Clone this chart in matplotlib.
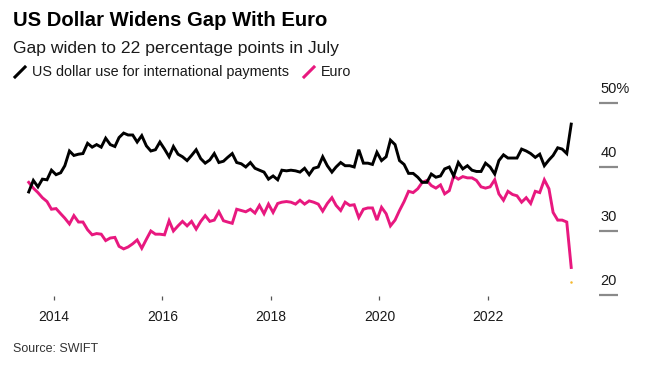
import matplotlib
matplotlib.use("Agg")
import matplotlib.pyplot as plt
import matplotlib.dates as mdates
from matplotlib.lines import Line2D
import matplotlib.transforms as mtransforms
import pandas as pd

# ================================
# Data (monthly, Jul 2013 - Jul 2023), share of SWIFT payments in %
# ================================

START = "2013-07-01"

usd_share = [
    36.1, 37.9, 36.9, 38.1, 38.0, 39.5, 38.8, 39.1, 40.2, 42.5,
    41.8, 42.0, 42.1, 43.7, 43.1, 43.5, 43.1, 44.5, 43.5, 43.2,
    44.6, 45.3, 45.0, 45.0, 43.9, 44.9, 43.3, 42.5, 42.7, 43.9,
    42.8, 41.6, 43.2, 42.0, 41.6, 41.0, 41.8, 42.7, 41.3, 40.6,
    41.1, 42.1, 40.7, 40.9, 41.5, 42.1, 40.7, 40.5, 40.0, 40.7,
    39.8, 39.5, 39.2, 38.1, 38.6, 38.0, 39.5, 39.4, 39.5, 39.4,
    39.2, 39.8, 38.8, 39.8, 40.0, 41.6, 40.2, 39.2, 40.0, 40.7,
    40.2, 40.2, 40.0, 42.7, 40.6, 40.6, 40.4, 42.3, 41.0, 41.6,
    44.2, 43.5, 41.0, 40.4, 39.0, 39.0, 38.4, 37.6, 37.6, 38.9,
    38.4, 38.6, 39.7, 40.0, 38.6, 40.7, 39.7, 40.2, 39.5, 39.3,
    39.3, 40.6, 40.0, 38.9, 41.0, 41.9, 41.4, 41.4, 41.4, 42.8,
    42.5, 42.1, 41.5, 42.0, 40.2, 41.1, 41.8, 43.0, 42.8, 42.1,
    46.7,
]

eur_share = [
    37.6, 36.7, 36.0, 35.2, 34.6, 33.4, 33.5, 32.7, 32.0, 31.1,
    32.4, 31.4, 31.4, 30.2, 29.4, 29.6, 29.5, 28.5, 28.9, 29.0,
    27.6, 27.2, 27.5, 28.0, 28.6, 27.3, 28.7, 30.0, 29.5, 29.5,
    29.4, 31.6, 30.0, 30.8, 31.5, 30.8, 31.5, 30.3, 31.5, 32.4,
    31.5, 31.7, 33.0, 31.6, 31.4, 31.2, 33.4, 33.2, 33.0, 33.4,
    32.8, 34.0, 32.7, 34.2, 32.9, 34.3, 34.5, 34.6, 34.5, 34.2,
    34.8, 34.2, 34.7, 34.5, 34.2, 33.1, 34.3, 35.2, 34.0, 33.2,
    34.5, 34.0, 34.1, 32.1, 33.4, 33.6, 33.6, 31.7, 33.7, 32.7,
    30.8, 31.7, 33.2, 34.6, 36.2, 36.0, 36.6, 37.6, 37.9, 37.1,
    36.7, 37.2, 35.8, 36.3, 38.6, 38.1, 38.5, 38.3, 38.3, 37.9,
    36.9, 36.7, 36.9, 38.0, 35.8, 34.8, 36.2, 35.7, 35.5, 34.5,
    35.2, 34.3, 36.2, 36.0, 38.0, 36.6, 32.9, 31.7, 31.7, 31.4,
    24.3,
]

gap_last = [22.0]  # gap in July 2023, shown as the small yellow dot

y_ticks = [20, 30, 40, 50]
y_tick_labels = ["20", "30", "40", "50%"]

TITLE = "US Dollar Widens Gap With Euro"
SUBTITLE = "Gap widen to 22 percentage points in July"
LEGEND_USD = "US dollar use for international payments"
LEGEND_EUR = "Euro"
SOURCE = "Source: SWIFT"

BLACK = "#000000"
PINK = "#e8187f"
YELLOW = "#f5b82e"
GREY = "#8a8a8a"

plt.rcParams["font.family"] = ["Liberation Sans", "DejaVu Sans"]


def year_to_date(t):
    y = int(t)
    return pd.Timestamp(f"{y}-01-01") + pd.Timedelta(days=(t - y) * 365.25)


def main():
    dates = pd.date_range(START, periods=len(usd_share), freq="MS") + pd.Timedelta(days=14)

    W, H = 651, 365
    fig = plt.figure(figsize=(W / 100, H / 100), dpi=100)

    # axes box in pixels: left 20, right 590, top 95, bottom 296
    left, right, top, bottom = 20, 590, 95, 296
    ax = fig.add_axes([left / W, 1 - bottom / H, (right - left) / W, (bottom - top) / H])

    ax.plot(dates, eur_share, color=PINK, lw=2.1, solid_joinstyle="miter", zorder=3)
    ax.plot(dates, usd_share, color=BLACK, lw=2.1, solid_joinstyle="miter", zorder=4)
    ax.plot(dates[-1:], gap_last, "o", color=YELLOW, ms=1.8, mew=0, zorder=5)

    ax.set_xlim(year_to_date(2013.373), year_to_date(2023.88))
    ax.set_ylim(19.84, 51.25)

    for s in ax.spines.values():
        s.set_visible(False)

    ax.xaxis.set_major_locator(mdates.YearLocator(2))
    ax.xaxis.set_major_formatter(mdates.DateFormatter("%Y"))
    ax.tick_params(axis="x", length=3, width=0.9, color="#555555", pad=7,
                   labelsize=10, labelcolor="#1a1a1a")
    ax.set_yticks([])

    # right-side value labels sitting above short grey rules
    trans = mtransforms.blended_transform_factory(ax.transAxes, ax.transData)
    x0 = (599.3 - left) / (right - left)
    x1 = (617.7 - left) / (right - left)
    for v, lab in zip(y_ticks, y_tick_labels):
        ax.plot([x0, x1], [v, v], transform=trans, color=GREY, lw=1.6,
                clip_on=False, solid_capstyle="butt")
        ax.annotate(lab, xy=(x0 + 0.002, v), xycoords=trans, xytext=(0, 9.8),
                    textcoords="offset points", ha="left", va="center",
                    fontsize=10.5, color="#1a1a1a", annotation_clip=False)

    # header
    fig.text(13 / W, 1 - 21 / H, TITLE, fontsize=14.6, fontweight="bold",
             ha="left", va="center", color="#000000")
    fig.text(13 / W, 1 - 48 / H, SUBTITLE, fontsize=12.6,
             ha="left", va="center", color="#1a1a1a")

    # legend
    ly = 1 - 72 / H
    fig.add_artist(Line2D([15 / W, 25 / W], [1 - 77 / H, 1 - 67 / H], color=BLACK, lw=2.2,
                          transform=fig.transFigure))
    fig.text(32 / W, ly, LEGEND_USD, fontsize=10.4, ha="left", va="center", color="#1a1a1a")
    fig.add_artist(Line2D([304 / W, 314 / W], [1 - 77 / H, 1 - 67 / H], color=PINK, lw=2.2,
                          transform=fig.transFigure))
    fig.text(321 / W, ly, LEGEND_EUR, fontsize=10.4, ha="left", va="center", color="#1a1a1a")

    fig.text(13 / W, 1 - 349 / H, SOURCE, fontsize=9, ha="left", va="center", color="#333333")

    fig.savefig("out.png", dpi=100)


if __name__ == "__main__":
    main()
